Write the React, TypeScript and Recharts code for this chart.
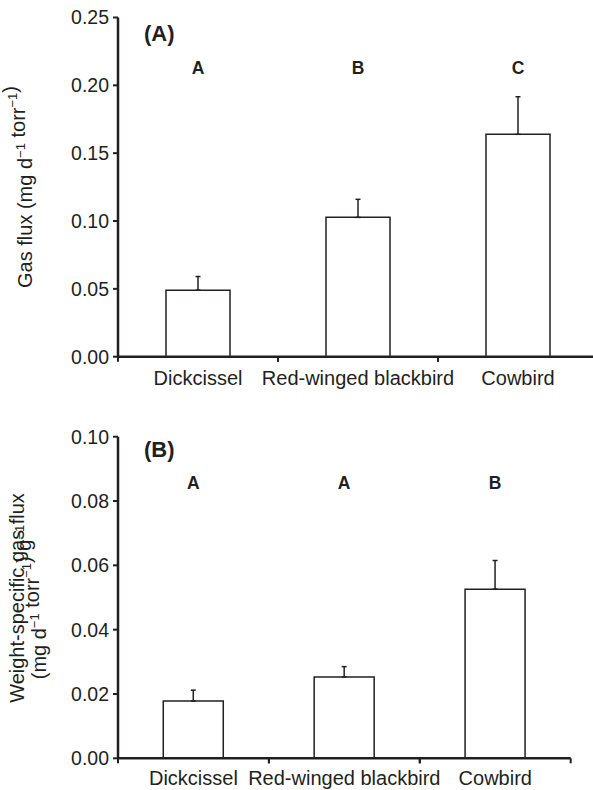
import * as React from "react";
import { BarChart, Bar, XAxis, YAxis, ErrorBar, LabelList } from "recharts";

const categories = ["Dickcissel", "Red-winged blackbird", "Cowbird"];

// panel A: gas flux
const fluxMeans = [0.049, 0.1027, 0.1639];
const fluxErrors = [0.0101, 0.0133, 0.0277];
const fluxLetters = ["A", "B", "C"];
const fluxTicks = [0, 0.05, 0.1, 0.15, 0.2, 0.25];

// panel B: weight-specific gas flux
const specMeans = [0.0178, 0.0253, 0.0526];
const specErrors = [0.0034, 0.0032, 0.0089];
const specLetters = ["A", "A", "B"];
const specTicks = [0, 0.02, 0.04, 0.06, 0.08, 0.1];

const INK = "#231f20";
const FONT = "'Liberation Sans', Arial, Helvetica, sans-serif";

const buildRows = (means: number[], errs: number[], letters: string[]) =>
  categories.map((name, i) => ({
    name,
    mean: means[i],
    err: [0, errs[i]],
    letter: letters[i],
  }));

const fluxData = buildRows(fluxMeans, fluxErrors, fluxLetters);
const specData = buildRows(specMeans, specErrors, specLetters);

// category tick: label in the middle, small tick marks at the category edges
function CatTick(props: any) {
  const { x, y, payload, catWidth, labelDy } = props;
  const left = x - catWidth / 2;
  const right = x + catWidth / 2;
  return (
    <g>
      <line x1={left} x2={left} y1={y} y2={y + 5} stroke={INK} strokeWidth={2} />
      <line x1={right} x2={right} y1={y} y2={y + 5} stroke={INK} strokeWidth={2} />
      <text
        x={x}
        y={y + labelDy}
        textAnchor="middle"
        fontSize={20}
        fontFamily={FONT}
        fill={INK}
      >
        {payload.value}
      </text>
    </g>
  );
}

function letterContent(letterY: number) {
  return (p: any) => (
    <text
      x={p.x + p.width / 2}
      y={letterY}
      textAnchor="middle"
      fontSize={17.5}
      fontWeight="bold"
      fontFamily={FONT}
      fill={INK}
    >
      {p.value}
    </text>
  );
}

const sup = (s: string) => (
  <>
    <tspan dy={-7.5} fontSize={13}>
      {s}
    </tspan>
    <tspan dy={7.5}>{""}</tspan>
  </>
);

export default function App() {
  const yTick = { fontSize: 19.5, fontFamily: FONT, fill: INK };
  return (
    <div
      style={{
        position: "absolute",
        left: 0,
        top: 0,
        width: 593,
        height: 790,
        overflow: "hidden",
        background: "#fff",
      }}
    >
      {/* Panel A */}
      <div style={{ position: "absolute", left: 0, top: 0 }}>
        <BarChart
          width={600}
          height={390}
          data={fluxData}
          margin={{ top: 17.5, right: 2, left: 0, bottom: 3.3 }}
          barCategoryGap="30%"
        >
          <XAxis
            dataKey="name"
            height={30}
            axisLine={{ stroke: INK, strokeWidth: 2.5 }}
            tickLine={false}
            tickSize={0}
            tickMargin={0}
            interval={0}
            tick={<CatTick catWidth={160} labelDy={28.3} />}
          />
          <YAxis
            width={118}
            domain={[0, 0.25]}
            ticks={fluxTicks}
            tickFormatter={(v: number) => v.toFixed(2)}
            tick={yTick}
            tickSize={5}
            tickMargin={4}
            axisLine={{ stroke: INK, strokeWidth: 2.5 }}
            tickLine={{ stroke: INK, strokeWidth: 2 }}
          />
          <Bar
            dataKey="mean"
            fill="#fff"
            stroke={INK}
            strokeWidth={1.5}
            isAnimationActive={false}
          >
            <ErrorBar
              dataKey="err"
              direction="y"
              width={2.5}
              stroke={INK}
              strokeWidth={1.5}
            />
            <LabelList dataKey="letter" content={letterContent(73.5)} />
          </Bar>
          <text x={144} y={41} fontSize={22} fontWeight="bold" fontFamily={FONT} fill={INK}>
            (A)
          </text>
          <text
            transform="translate(32,187) rotate(-90)"
            textAnchor="middle"
            fontSize={20}
            fontFamily={FONT}
            fill={INK}
          >
            Gas flux (mg d{sup("−1")} torr{sup("−1")})
          </text>
        </BarChart>
      </div>

      {/* Panel B */}
      <div style={{ position: "absolute", left: 0, top: 395 }}>
        <BarChart
          width={593}
          height={395}
          data={specData}
          margin={{ top: 41.7, right: 22.3, left: 0, bottom: 0 }}
          barCategoryGap="30%"
        >
          <XAxis
            dataKey="name"
            height={31.7}
            axisLine={{ stroke: INK, strokeWidth: 2.5 }}
            tickLine={false}
            tickSize={0}
            tickMargin={0}
            interval={0}
            tick={<CatTick catWidth={150.9} labelDy={26.7} />}
          />
          <YAxis
            width={118}
            domain={[0, 0.1]}
            ticks={specTicks}
            tickFormatter={(v: number) => v.toFixed(2)}
            tick={yTick}
            tickSize={5}
            tickMargin={4}
            axisLine={{ stroke: INK, strokeWidth: 2.5 }}
            tickLine={{ stroke: INK, strokeWidth: 2 }}
          />
          <Bar
            dataKey="mean"
            fill="#fff"
            stroke={INK}
            strokeWidth={1.5}
            isAnimationActive={false}
          >
            <ErrorBar
              dataKey="err"
              direction="y"
              width={2.5}
              stroke={INK}
              strokeWidth={1.5}
            />
            <LabelList dataKey="letter" content={letterContent(94.3)} />
          </Bar>
          <text x={144} y={62} fontSize={22} fontWeight="bold" fontFamily={FONT} fill={INK}>
            (B)
          </text>
          <text
            transform="translate(24,203) rotate(-90)"
            textAnchor="middle"
            fontSize={20}
            fontFamily={FONT}
            fill={INK}
          >
            Weight-specific gas flux
          </text>
          <text
            transform="translate(46,207) rotate(-90)"
            textAnchor="middle"
            fontSize={20}
            fontFamily={FONT}
            fill={INK}
          >
            (mg d{sup("−1")} torr{sup("−1")}) g{sup("−1")}
          </text>
        </BarChart>
      </div>
    </div>
  );
}
